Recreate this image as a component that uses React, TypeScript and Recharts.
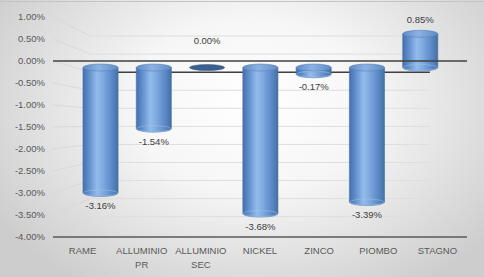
import React from 'react';
import { BarChart, Bar, XAxis, YAxis, ReferenceLine, LabelList, CartesianGrid } from 'recharts';

const categories = ['RAME', 'ALLUMINIO PR', 'ALLUMINIO SEC', 'NICKEL', 'ZINCO', 'PIOMBO', 'STAGNO'];
const changes = [-3.16, -1.54, 0.0, -3.68, -0.17, -3.39, 0.85];
const yTicks = [1, 0.5, 0, -0.5, -1, -1.5, -2, -2.5, -3, -3.5, -4];
const zeroTick = [0];

const data = categories.map((name, i) => ({ name, value: changes[i] }));

// 3D perspective (front plane -> bar depth / back wall)
const BAR_KX = 0.901, BAR_BX = 26.2, BAR_KY = 0.902, BAR_AY = 12.5;
const WALL_K = 0.821, WALL_BX = 46.5, WALL_AY = 22.1;
const FONT = "'Liberation Sans', Arial, sans-serif";

const fmt = (v: number) => `${v.toFixed(2)}%`;

const WallGridLine = (p: any) => {
  const { x1, y1, x2 } = p;
  const yb = WALL_AY + WALL_K * y1;
  const xbL = WALL_BX + WALL_K * x1;
  const xbR = WALL_BX + WALL_K * x2;
  return (
    <g>
      <line x1={x1} y1={y1} x2={xbL} y2={yb} stroke="#d9d9d9" strokeWidth={1} />
      <line x1={xbL} y1={yb} x2={xbR} y2={yb} stroke="#dedede" strokeWidth={1} />
    </g>
  );
};

const BackZeroLine = (p: any) => {
  const { x1, y1, x2 } = p;
  const yb = WALL_AY + WALL_K * y1;
  return <line x1={WALL_BX + WALL_K * x1} y1={yb} x2={WALL_BX + WALL_K * x2} y2={yb} stroke="#404040" strokeWidth={1.5} />;
};

const geom = (p: any) => {
  const { x, y, width } = p;
  const h = p.height ?? 0;
  const yA = Math.min(y, y + h);
  const yB = Math.max(y, y + h);
  const cx = BAR_BX + BAR_KX * (x + width / 2);
  const rx = (BAR_KX * width) / 2;
  const top = BAR_AY + BAR_KY * yA;
  const bot = BAR_AY + BAR_KY * yB;
  return { cx, rx, top, bot };
};

const Cylinder = (p: any) => {
  const { cx, rx, top, bot } = geom(p);
  const ry = 3.5;
  if (bot - top < 1) {
    return <ellipse cx={cx} cy={top} rx={rx} ry={3} fill="#3b5f8e" stroke="#33547f" strokeWidth={0.5} />;
  }
  return (
    <g>
      <path
        d={`M${cx - rx},${top} L${cx - rx},${bot} A${rx},${ry} 0 0 0 ${cx + rx},${bot} L${cx + rx},${top} Z`}
        fill="url(#cylBody)"
        stroke="#4a73a8"
        strokeWidth={0.6}
      />
      <ellipse cx={cx} cy={bot} rx={rx - 0.5} ry={ry - 0.5} fill="none" stroke="#a6c5ea" strokeWidth={0.7} opacity={0.7} />
      <ellipse cx={cx} cy={top} rx={rx} ry={ry} fill="url(#cylTop)" stroke="#5681bb" strokeWidth={0.6} />
    </g>
  );
};

const BarLabel = (p: any) => {
  const { cx, top, bot } = geom(p);
  const v = Number(p.value);
  const ly = v < 0 ? bot + 12.5 : v > 0 ? top - 14 : top - 27.5;
  return (
    <text x={cx} y={ly} textAnchor="middle" dominantBaseline="central" fontSize={9.5} fill="#404040" fontFamily={FONT}>
      {fmt(v)}
    </text>
  );
};

const XTick = (p: any) => {
  const { x, y, payload } = p;
  const s: string = payload.value;
  const idx = s.indexOf(' ');
  const lines = idx > 0 ? [s.slice(0, idx), s.slice(idx + 1)] : [s];
  return (
    <g>
      {lines.map((l, i) => (
        <text key={i} x={x} y={y + 5 + i * 14} textAnchor="middle" dominantBaseline="central" fontSize={9.5} fill="#595959" fontFamily={FONT}>
          {l}
        </text>
      ))}
    </g>
  );
};

export default function App() {
  return (
    <div
      style={{
        position: 'relative',
        width: 484,
        height: 277,
        fontFamily: FONT,
        background: 'radial-gradient(ellipse 62% 78% at 52% 38%, #ffffff 0%, #f6f6f6 40%, #cdcdcd 100%)',
        overflow: 'hidden',
      }}
    >
      <style>{`body{margin:0}`}</style>
      <svg width={0} height={0} style={{ position: 'absolute' }}>
        <defs>
          <linearGradient id="cylBody" x1="0" y1="0" x2="1" y2="0">
            <stop offset="0" stopColor="#4470ab" />
            <stop offset="0.15" stopColor="#5c8bc9" />
            <stop offset="0.4" stopColor="#93bbec" />
            <stop offset="0.55" stopColor="#82ace0" />
            <stop offset="0.85" stopColor="#5685c3" />
            <stop offset="1" stopColor="#45709f" />
          </linearGradient>
          <linearGradient id="cylTop" x1="0" y1="0" x2="1" y2="0">
            <stop offset="0" stopColor="#5f8bc6" />
            <stop offset="0.45" stopColor="#8cb2e2" />
            <stop offset="1" stopColor="#608cc7" />
          </linearGradient>
        </defs>
      </svg>
      <div style={{ position: 'absolute', left: 0, top: 1, width: 484, height: 1, background: '#c4c4c4' }} />
      <BarChart width={484} height={277} data={data} margin={{ top: 17, right: 17, bottom: 10, left: 0 }} barSize={39}>
        <CartesianGrid vertical={false} horizontal={(p: any) => <WallGridLine key={p.key} {...p} />} />
        <CartesianGrid vertical={false} horizontalValues={zeroTick} horizontal={(p: any) => <BackZeroLine key={p.key} {...p} />} />
        <XAxis
          dataKey="name"
          height={30}
          tickLine={false}
          axisLine={{ stroke: '#595959', strokeWidth: 1.6 }}
          tick={<XTick />}
          interval={0}
        />
        <YAxis
          width={53}
          domain={[-4, 1]}
          ticks={yTicks}
          tickFormatter={fmt}
          tickLine={false}
          axisLine={false}
          tick={{ fill: '#595959', fontSize: 9.5, fontFamily: FONT }}
          interval={0}
        />
        <Bar dataKey="value" shape={<Cylinder />} isAnimationActive={false}>
          <LabelList dataKey="value" content={<BarLabel />} />
        </Bar>
        <ReferenceLine y={0} stroke="#404040" strokeWidth={1.6} />
      </BarChart>
    </div>
  );
}
